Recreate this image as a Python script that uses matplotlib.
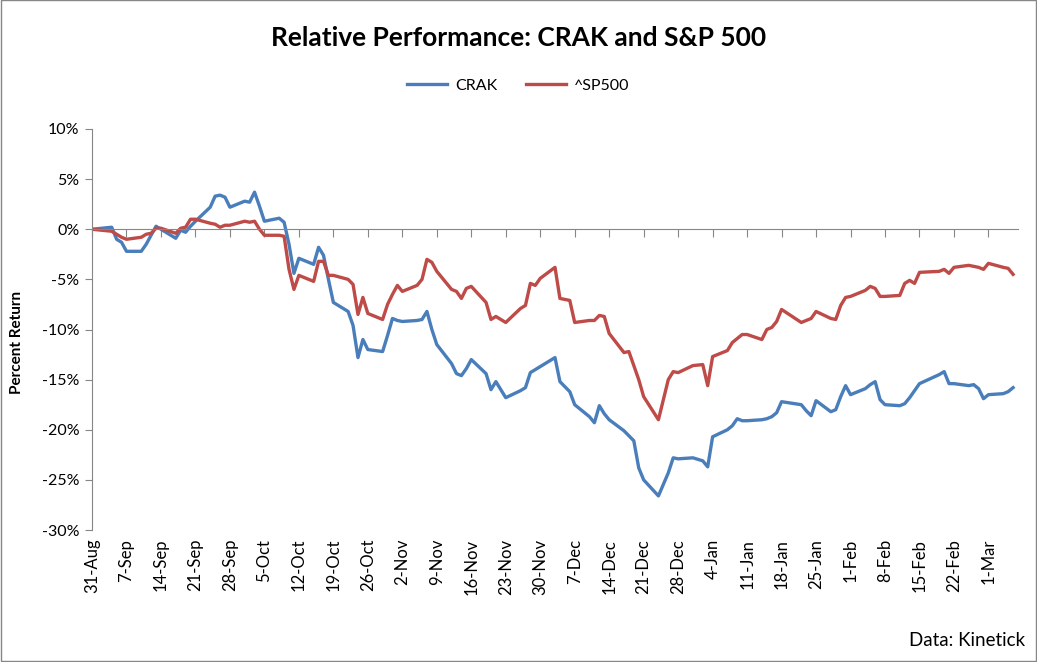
import matplotlib
matplotlib.use('Agg')
import matplotlib.pyplot as plt
from matplotlib.patches import Rectangle
import pandas as pd

dates = ['2018-08-31', '2018-09-04', '2018-09-05', '2018-09-06', '2018-09-07',
         '2018-09-10', '2018-09-11', '2018-09-12', '2018-09-13', '2018-09-14',
         '2018-09-17', '2018-09-18', '2018-09-19', '2018-09-20', '2018-09-21',
         '2018-09-24', '2018-09-25', '2018-09-26', '2018-09-27', '2018-09-28',
         '2018-10-01', '2018-10-02', '2018-10-03', '2018-10-04', '2018-10-05',
         '2018-10-08', '2018-10-09', '2018-10-10', '2018-10-11', '2018-10-12',
         '2018-10-15', '2018-10-16', '2018-10-17', '2018-10-18', '2018-10-19',
         '2018-10-22', '2018-10-23', '2018-10-24', '2018-10-25', '2018-10-26',
         '2018-10-29', '2018-10-30', '2018-10-31', '2018-11-01', '2018-11-02',
         '2018-11-05', '2018-11-06', '2018-11-07', '2018-11-08', '2018-11-09',
         '2018-11-12', '2018-11-13', '2018-11-14', '2018-11-15', '2018-11-16',
         '2018-11-19', '2018-11-20', '2018-11-21', '2018-11-23',
         '2018-11-26', '2018-11-27', '2018-11-28', '2018-11-29', '2018-11-30',
         '2018-12-03', '2018-12-04', '2018-12-06', '2018-12-07',
         '2018-12-10', '2018-12-11', '2018-12-12', '2018-12-13', '2018-12-14',
         '2018-12-17', '2018-12-18', '2018-12-19', '2018-12-20', '2018-12-21',
         '2018-12-24', '2018-12-26', '2018-12-27', '2018-12-28', '2018-12-31',
         '2019-01-02', '2019-01-03', '2019-01-04',
         '2019-01-07', '2019-01-08', '2019-01-09', '2019-01-10', '2019-01-11',
         '2019-01-14', '2019-01-15', '2019-01-16', '2019-01-17', '2019-01-18',
         '2019-01-22', '2019-01-23', '2019-01-24', '2019-01-25',
         '2019-01-28', '2019-01-29', '2019-01-30', '2019-01-31', '2019-02-01',
         '2019-02-04', '2019-02-05', '2019-02-06', '2019-02-07', '2019-02-08',
         '2019-02-11', '2019-02-12', '2019-02-13', '2019-02-14', '2019-02-15',
         '2019-02-19', '2019-02-20', '2019-02-21', '2019-02-22',
         '2019-02-25', '2019-02-26', '2019-02-27', '2019-02-28', '2019-03-01',
         '2019-03-04', '2019-03-05', '2019-03-06']

# percent return since 31-Aug
crak = [0.0, 0.2, -1.0, -1.3, -2.2,
        -2.2, -1.5, -0.6, 0.3, 0.0,
        -0.9, -0.1, -0.3, 0.3, 0.8,
        2.2, 3.3, 3.4, 3.2, 2.2,
        2.8, 2.7, 3.7, 2.3, 0.8,
        1.1, 0.7, -1.5, -4.4, -2.9,
        -3.5, -1.8, -2.6, -5.0, -7.3,
        -8.2, -9.6, -12.8, -11.0, -12.0,
        -12.2, -10.6, -8.9, -9.1, -9.2,
        -9.1, -9.0, -8.2, -10.0, -11.5,
        -13.4, -14.4, -14.6, -13.9, -13.0,
        -14.4, -16.0, -15.2, -16.8,
        -16.1, -15.8, -14.3, -14.0, -13.7,
        -12.8, -15.2, -16.2, -17.5,
        -18.7, -19.3, -17.6, -18.4, -19.0,
        -20.1, -20.6, -21.1, -23.8, -25.0,
        -26.6, -24.3, -22.8, -22.9, -22.8,
        -23.1, -23.7, -20.7,
        -20.0, -19.6, -18.9, -19.1, -19.1,
        -19.0, -18.9, -18.7, -18.3, -17.2,
        -17.5, -18.1, -18.6, -17.1,
        -18.2, -18.0, -16.7, -15.6, -16.5,
        -15.9, -15.5, -15.2, -17.0, -17.5,
        -17.6, -17.4, -16.8, -16.1, -15.4,
        -14.5, -14.2, -15.4, -15.4,
        -15.6, -15.5, -15.9, -16.9, -16.5,
        -16.4, -16.2, -15.8]

sp500 = [0.0, -0.2, -0.5, -0.8, -1.0,
         -0.8, -0.5, -0.4, 0.1, 0.1,
         -0.4, 0.1, 0.2, 1.0, 1.0,
         0.6, 0.5, 0.2, 0.4, 0.4,
         0.8, 0.7, 0.8, 0.0, -0.6,
         -0.6, -0.7, -4.0, -6.0, -4.6,
         -5.2, -3.2, -3.2, -4.6, -4.6,
         -5.0, -5.5, -8.5, -6.8, -8.4,
         -9.0, -7.5, -6.5, -5.6, -6.2,
         -5.6, -5.0, -3.0, -3.3, -4.2,
         -6.0, -6.2, -6.9, -5.9, -5.7,
         -7.3, -9.0, -8.7, -9.3,
         -7.9, -7.6, -5.4, -5.6, -4.9,
         -3.8, -6.9, -7.1, -9.3,
         -9.1, -9.1, -8.6, -8.7, -10.4,
         -12.3, -12.2, -13.6, -15.0, -16.7,
         -19.0, -15.0, -14.2, -14.3, -13.6,
         -13.5, -15.6, -12.7,
         -12.1, -11.3, -10.9, -10.5, -10.5,
         -11.0, -10.0, -9.8, -9.2, -8.0,
         -9.3, -9.1, -8.9, -8.2,
         -8.9, -9.0, -7.6, -6.8, -6.7,
         -6.1, -5.7, -5.9, -6.7, -6.7,
         -6.6, -5.4, -5.1, -5.4, -4.3,
         -4.2, -4.0, -4.4, -3.8,
         -3.6, -3.7, -3.8, -4.0, -3.4,
         -3.8, -3.9, -4.5]

tick_labels = ['31-Aug', '7-Sep', '14-Sep', '21-Sep', '28-Sep', '5-Oct', '12-Oct',
               '19-Oct', '26-Oct', '2-Nov', '9-Nov', '16-Nov', '23-Nov', '30-Nov',
               '7-Dec', '14-Dec', '21-Dec', '28-Dec', '4-Jan', '11-Jan', '18-Jan',
               '25-Jan', '1-Feb', '8-Feb', '15-Feb', '22-Feb', '1-Mar']
y_ticks = [10, 5, 0, -5, -10, -15, -20, -25, -30]

plt.rcParams['font.family'] = ['Lato', 'DejaVu Sans']

x = pd.to_datetime(dates)
tick_dates = pd.date_range('2018-08-31', periods=len(tick_labels), freq='7D')

fig = plt.figure(figsize=(10.37, 6.62), dpi=100)
ax = fig.add_axes([92 / 1037, 1 - 530 / 662, 926 / 1037, 401 / 662])

ax.plot(x, crak, color='#4A7EBB', lw=2.4, label='CRAK', solid_joinstyle='round')
ax.plot(x, sp500, color='#BE4B48', lw=2.4, label='^SP500', solid_joinstyle='round')

ax.set_xlim(pd.Timestamp('2018-08-31'), pd.Timestamp('2019-03-07'))
ax.set_ylim(-30, 10)

axis_grey = '#868686'
for side in ['top', 'right']:
    ax.spines[side].set_visible(False)
ax.spines['left'].set_color(axis_grey)
ax.spines['bottom'].set_color(axis_grey)
ax.spines['bottom'].set_position(('data', 0))

ax.set_yticks(y_ticks)
ax.set_yticklabels([f'{v}%' for v in y_ticks])
ax.tick_params(axis='y', direction='out', length=5, color=axis_grey, labelsize=11.5, pad=4)

ax.set_xticks(tick_dates)
ax.tick_params(axis='x', direction='out', length=6, color=axis_grey, labelbottom=False)
for d, lab in zip(tick_dates, tick_labels):
    ax.text(d, -0.022, lab, transform=ax.get_xaxis_transform(), rotation=90,
            ha='center', va='top', fontsize=12)

ax.set_ylabel('Percent Return', fontsize=11, fontweight='bold')
ax.yaxis.set_label_coords(-0.073, 0.468)

fig.text(0.5, 1 - 38 / 662, 'Relative Performance: CRAK and S&P 500',
         ha='center', va='center', fontsize=19, fontweight='bold')
fig.legend(loc='center', bbox_to_anchor=(0.5, 1 - 86 / 662), ncol=2, frameon=False,
           fontsize=11.5, handlelength=2.5, handletextpad=0.5, columnspacing=1.8)
fig.text(1 - 12 / 1037, 1 - 640 / 662, 'Data: Kinetick', ha='right', va='center',
         fontsize=13.5)

fig.patches.append(Rectangle((0.0005, 0.0008), 0.999, 0.9985, transform=fig.transFigure,
                             fill=False, edgecolor=axis_grey, lw=1))

fig.savefig('out.png', dpi=100)
